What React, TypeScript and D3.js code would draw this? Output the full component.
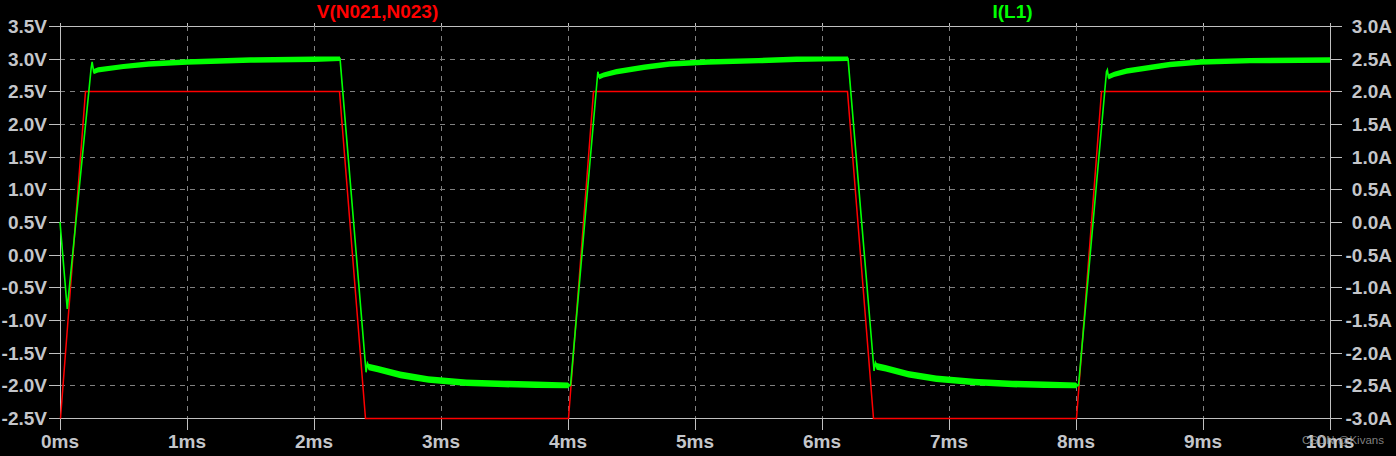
import React, { useEffect } from "react";
import * as d3 from "d3";

// ---- data ----
const xTicks = [0, 1, 2, 3, 4, 5, 6, 7, 8, 9, 10]; // ms
const leftTicks = [-2.5, -2.0, -1.5, -1.0, -0.5, 0.0, 0.5, 1.0, 1.5, 2.0, 2.5, 3.0, 3.5]; // V
const rightTicks = [-3.0, -2.5, -2.0, -1.5, -1.0, -0.5, 0.0, 0.5, 1.0, 1.5, 2.0, 2.5, 3.0]; // A

// V(N021,N023)
const redTime = [0, 0.2, 2.2, 2.4, 4.0, 4.2, 6.2, 6.4, 8.0, 8.2, 10];
const redVolt = [-2.5, 2.5, 2.5, -2.5, -2.5, 2.5, 2.5, -2.5, -2.5, 2.5, 2.5];

// I(L1)
const greenTime = [
  0, 0.057, 0.245, 0.253, 0.265, 0.3, 0.5, 0.7, 1.0, 1.5, 2.0, 2.205,
  2.41, 2.42, 2.43, 2.5, 2.68, 2.9, 3.2, 3.5, 3.75, 4.0, 4.02,
  4.235, 4.245, 4.28, 4.38, 4.6, 4.8, 5.1, 5.5, 5.8, 6.205,
  6.41, 6.42, 6.43, 6.5, 6.68, 6.9, 7.2, 7.5, 7.75, 8.0, 8.02,
  8.24, 8.247, 8.255, 8.3, 8.4, 8.74, 8.98, 9.37, 10,
];
const greenAmp = [
  0.0, -1.33, 2.35, 2.45, 2.3, 2.33, 2.38, 2.42, 2.45, 2.48, 2.49, 2.5,
  -2.3, -2.17, -2.22, -2.25, -2.34, -2.41, -2.46, -2.48, -2.49, -2.5, -2.5,
  2.3, 2.22, 2.25, 2.3, 2.37, 2.42, 2.45, 2.47, 2.49, 2.5,
  -2.28, -2.16, -2.21, -2.24, -2.33, -2.4, -2.45, -2.48, -2.49, -2.5, -2.5,
  2.3, 2.33, 2.22, 2.26, 2.31, 2.41, 2.45, 2.47, 2.48,
];
// half-width of the noise band seen on the plateaus (A)
const greenNoise = [
  0, 0, 0, 0, 0.04, 0.04, 0.04, 0.042, 0.042, 0.042, 0.042, 0.035,
  0, 0.045, 0.05, 0.05, 0.05, 0.05, 0.05, 0.05, 0.05, 0.045, 0,
  0, 0.04, 0.04, 0.042, 0.042, 0.042, 0.042, 0.042, 0.042, 0.035,
  0, 0.045, 0.05, 0.05, 0.05, 0.05, 0.05, 0.05, 0.05, 0.045, 0,
  0, 0, 0.04, 0.04, 0.042, 0.042, 0.042, 0.042, 0.042,
];

const W = 1396;
const H = 456;
const FONT = "'Liberation Sans', Arial, sans-serif";
const AXIS_COLOR = "#c0c0c0";
const GRID_COLOR = "#808080";
const TEXT_COLOR = "#c4c6ca";

export default function App() {
  useEffect(() => {
    document.body.style.margin = "0";
    document.body.style.overflow = "hidden";
    document.body.style.background = "#000";
  }, []);

  const left = 60;
  const right = 1330;
  const top = 26;
  const bottom = 418;

  const x = d3.scaleLinear().domain([0, 10]).range([left, right]);
  const yV = d3.scaleLinear().domain([-2.5, 3.5]).range([bottom, top]);
  const yA = d3.scaleLinear().domain([-3, 3]).range([bottom, top]);

  const c = (v: number) => Math.round(v) + 0.5;

  const redPts = redTime.map((t, i) => [t, redVolt[i]] as [number, number]);
  const greenPts = greenTime.map((t, i) => ({ t, a: greenAmp[i], n: greenNoise[i] }));

  const redLine = d3
    .line<[number, number]>()
    .x((d) => c(x(d[0])))
    .y((d) => c(yV(d[1])))(redPts) as string;

  const greenLine = d3
    .line<{ t: number; a: number; n: number }>()
    .x((d) => x(d.t))
    .y((d) => yA(d.a))(greenPts) as string;

  const greenBand = d3
    .area<{ t: number; a: number; n: number }>()
    .x((d) => x(d.t))
    .y0((d) => yA(d.a - d.n))
    .y1((d) => yA(d.a + d.n))(greenPts) as string;

  return (
    <svg
      width={W}
      height={H}
      style={{ position: "absolute", left: 0, top: 0, background: "#000", display: "block" }}
    >
      <rect x={0} y={0} width={W} height={H} fill="#000" />

      {/* horizontal grid + ticks */}
      {leftTicks.map((v) => {
        const y = c(yV(v));
        const isEdge = v === -2.5 || v === 3.5;
        return (
          <g key={"h" + v}>
            <line x1={49} x2={left} y1={y} y2={y} stroke={AXIS_COLOR} strokeWidth={1} />
            <line x1={right} x2={1342} y1={y} y2={y} stroke={AXIS_COLOR} strokeWidth={1} />
            {isEdge ? (
              <line x1={left} x2={right} y1={y} y2={y} stroke={AXIS_COLOR} strokeWidth={1} />
            ) : (
              <line
                x1={left}
                x2={right}
                y1={y}
                y2={y}
                stroke={GRID_COLOR}
                strokeWidth={1}
                strokeDasharray="5,5"
              />
            )}
          </g>
        );
      })}

      {/* vertical grid + ticks */}
      {xTicks.map((t) => {
        const xx = c(x(t));
        const isEdge = t === 0 || t === 10;
        return (
          <g key={"v" + t}>
            {isEdge ? (
              <line x1={xx} x2={xx} y1={top} y2={bottom} stroke={AXIS_COLOR} strokeWidth={1} />
            ) : (
              <line
                x1={xx}
                x2={xx}
                y1={top}
                y2={bottom}
                stroke={GRID_COLOR}
                strokeWidth={1}
                strokeDasharray="5,5"
              />
            )}
            <line x1={xx} x2={xx} y1={bottom} y2={430} stroke={AXIS_COLOR} strokeWidth={1} />
            <line x1={xx} x2={xx} y1={top - 3} y2={top} stroke={AXIS_COLOR} strokeWidth={1} />
          </g>
        );
      })}

      {/* traces */}
      <path d={redLine} fill="none" stroke="#ff0000" strokeWidth={1.5} />
      <path d={greenBand} fill="#00ff00" stroke="none" />
      <path d={greenLine} fill="none" stroke="#00ff00" strokeWidth={1.6} />

      {/* left axis labels */}
      {leftTicks.map((v) => (
        <text
          key={"lt" + v}
          x={47}
          y={yV(v) + 7}
          textAnchor="end"
          fontFamily={FONT}
          fontWeight="bold"
          fontSize={19}
          fill={TEXT_COLOR}
        >
          {v.toFixed(1) + "V"}
        </text>
      ))}

      {/* right axis labels */}
      {rightTicks.map((v) => (
        <text
          key={"rt" + v}
          x={1392}
          y={yA(v) + 7}
          textAnchor="end"
          fontFamily={FONT}
          fontWeight="bold"
          fontSize={19}
          fill={TEXT_COLOR}
        >
          {v.toFixed(1) + "A"}
        </text>
      ))}

      {/* x labels */}
      {xTicks.map((t) => (
        <text
          key={"xt" + t}
          x={x(t)}
          y={448}
          textAnchor="middle"
          fontFamily={FONT}
          fontWeight="bold"
          fontSize={19}
          fill={TEXT_COLOR}
        >
          {t + "ms"}
        </text>
      ))}

      {/* titles */}
      <text
        x={x(2.5)}
        y={18}
        textAnchor="middle"
        fontFamily={FONT}
        fontWeight="bold"
        fontSize={19}
        fill="#ff0000"
      >
        V(N021,N023)
      </text>
      <text
        x={x(7.5)}
        y={18}
        textAnchor="middle"
        fontFamily={FONT}
        fontWeight="bold"
        fontSize={19}
        fill="#00ff00"
      >
        I(L1)
      </text>

      {/* watermark */}
      <text x={1302} y={444} fontFamily={FONT} fontSize={11.5} fill="#9a9a9a" fillOpacity={0.85}>
        CSDN @Kivans
      </text>
    </svg>
  );
}
